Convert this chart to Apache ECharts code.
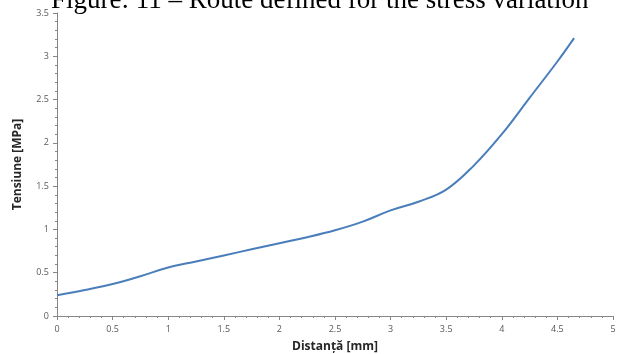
<!DOCTYPE html>
<html>
<head>
<meta charset="utf-8">
<script src="https://cdn.jsdelivr.net/npm/echarts@6/dist/echarts.min.js"></script>
<style>html,body{margin:0;padding:0;background:#fff;}#c{width:622px;height:354px;}</style>
</head>
<body>
<div id="c"></div>
<script>
var titleText = 'Figure: 11 – Route defined for the stress variation';
var xName = 'Distanță [mm]';
var yName = 'Tensiune [MPa]';
var distance = [0, 0.25, 0.5, 0.75, 1, 1.25, 1.5, 1.75, 2, 2.25, 2.5, 2.75, 3, 3.25, 3.5, 3.75, 4, 4.25, 4.5, 4.65];
var stress   = [0.24, 0.30, 0.37, 0.46, 0.56, 0.63, 0.70, 0.77, 0.84, 0.91, 0.99, 1.09, 1.22, 1.32, 1.46, 1.74, 2.10, 2.52, 2.94, 3.21];

var chart = echarts.init(document.getElementById('c'), null, {renderer: 'canvas'});
var axisColor = '#868686';
var labelStyle = {color: '#595959', fontSize: 9, fontFamily: 'Open Sans'};
chart.setOption({
  animation: false,
  backgroundColor: '#fff',
  graphic: [{
    type: 'text', left: 51, top: -13,
    style: {text: titleText, font: '27px "Liberation Serif"', fill: '#000'}
  }],
  grid: {left: 57, right: 9, top: 13, bottom: 38, outerBoundsMode: 'none', containLabel: false},
  xAxis: {
    type: 'value', min: 0, max: 5, interval: 0.5,
    name: xName, nameLocation: 'middle', nameGap: 25,
    nameTextStyle: {fontFamily: 'Open Sans', fontWeight: 'bold', fontSize: 12, color: '#262626'},
    axisLine: {onZero: false, lineStyle: {color: axisColor, width: 1}},
    axisTick: {show: true, length: 4, lineStyle: {color: axisColor}},
    minorTick: {show: true, splitNumber: 5, length: 2, lineStyle: {color: axisColor}},
    splitLine: {show: false},
    axisLabel: Object.assign({margin: 9}, labelStyle)
  },
  yAxis: {
    type: 'value', min: 0, max: 3.5, interval: 0.5,
    name: yName, nameLocation: 'middle', nameGap: 33, nameRotate: 90,
    nameTextStyle: {fontFamily: 'Open Sans', fontWeight: 'bold', fontSize: 12, color: '#262626'},
    axisLine: {show: true, lineStyle: {color: axisColor, width: 1}},
    axisTick: {show: true, length: 4, lineStyle: {color: axisColor}},
    minorTick: {show: true, splitNumber: 5, length: 2, lineStyle: {color: axisColor}},
    splitLine: {show: false},
    axisLabel: Object.assign({margin: 8}, labelStyle)
  },
  series: [{
    type: 'line', smooth: 0.4, showSymbol: false,
    data: distance.map(function (d, i) { return [d, stress[i]]; }),
    lineStyle: {color: '#4a7ebb', width: 2}
  }]
});
</script>
</body>
</html>
